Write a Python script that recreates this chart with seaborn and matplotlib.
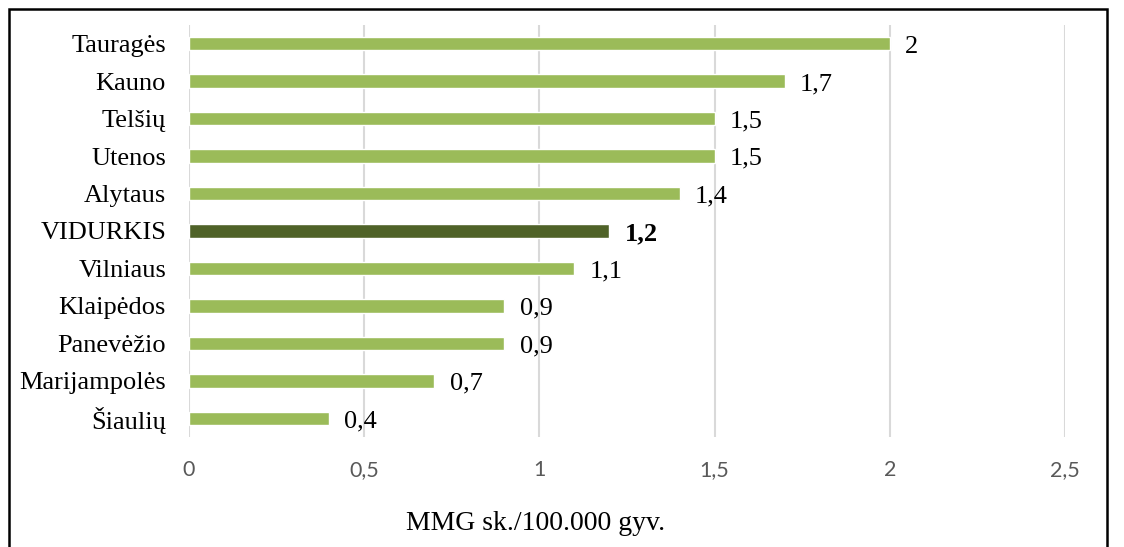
import matplotlib
matplotlib.use("Agg")
import matplotlib.pyplot as plt
import seaborn as sns
import pandas as pd
from matplotlib.patches import Rectangle

regions = ["Tauragės", "Kauno", "Telšių", "Utenos", "Alytaus", "VIDURKIS",
           "Vilniaus", "Klaipėdos", "Panevėžio", "Marijampolės", "Šiaulių"]
values = [2.0, 1.7, 1.5, 1.5, 1.4, 1.2, 1.1, 0.9, 0.9, 0.7, 0.4]
x_ticks = [0, 0.5, 1, 1.5, 2, 2.5]
x_tick_labels = ["0", "0,5", "1", "1,5", "2", "2,5"]
x_title = "MMG sk./100.000 gyv."
highlight = "VIDURKIS"

light_green = "#9BBB59"
dark_green = "#4F6228"

df = pd.DataFrame({"region": regions, "value": values})
df["kind"] = ["avg" if r == highlight else "region" for r in regions]

sns.set_theme(style="white")
serif = ["Liberation Serif", "DejaVu Serif"]

fig = plt.figure(figsize=(11.24, 5.47), dpi=100)
ax = fig.add_axes([189 / 1124, 1 - 437 / 547, (1065 - 189) / 1124, (437 - 25) / 547])

sns.barplot(data=df, y="region", x="value", hue="kind", orient="h",
            palette={"region": light_green, "avg": dark_green},
            order=regions, width=0.36, dodge=False, legend=False, ax=ax,
            saturation=1)

ax.set_xlim(0, 2.5)
ax.set_ylim(len(regions) - 0.5, -0.5)
ax.set_xticks(x_ticks)
ax.set_xticklabels(x_tick_labels, family=["Lato", "DejaVu Sans"], fontsize=15.5, color="#595959")
ax.tick_params(axis="x", length=0, pad=16.5)
ax.tick_params(axis="y", length=0, pad=16.5)
for lbl in ax.get_yticklabels():
    lbl.set_family(serif)
    lbl.set_fontsize(19)
    lbl.set_color("black")

ax.grid(axis="x", color="#D9D9D9", linewidth=1.5)
ax.set_axisbelow(True)
for s in ax.spines.values():
    s.set_visible(False)
ax.set_xlabel("")
ax.set_ylabel("")

# value labels next to each bar
for i, (r, v) in enumerate(zip(regions, values)):
    txt = f"{v:g}".replace(".", ",")
    ax.annotate(txt, xy=(v, i), xytext=(11, -2), textcoords="offset points",
                ha="left", va="center", family=serif, fontsize=19,
                fontweight="bold" if r == highlight else "normal", color="black")

fig.text(536 / 1124, 1 - 523 / 547, x_title, ha="center", va="center",
         family=serif, fontsize=20, color="black")

# outer frame
fig.patches.append(Rectangle((9 / 1124, -0.05), (1107 - 9) / 1124, 1.05 - 9 / 547,
                             transform=fig.transFigure, fill=False,
                             edgecolor="black", linewidth=1.8))

fig.savefig("out.png", dpi=100)
